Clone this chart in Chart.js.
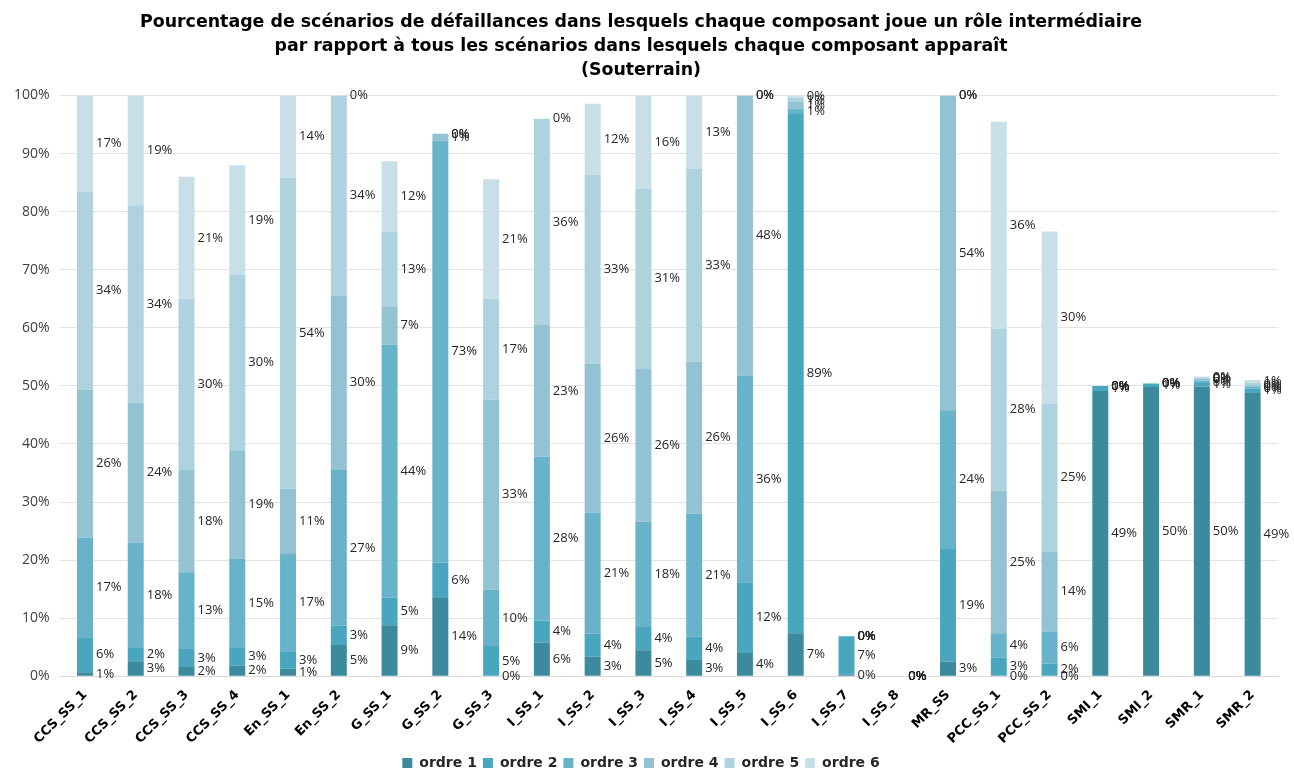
<!DOCTYPE html>
<html>
<head>
<meta charset="utf-8">
<script src="https://cdn.jsdelivr.net/npm/chart.js@4"></script>
<style>
  body { margin: 0; background: #fff; }
</style>
</head>
<body>
<canvas id="chart" width="1294" height="780"></canvas>
<script>
const categories = ['CCS_SS_1', 'CCS_SS_2', 'CCS_SS_3', 'CCS_SS_4', 'En_SS_1', 'En_SS_2', 'G_SS_1', 'G_SS_2', 'G_SS_3',
    'I_SS_1', 'I_SS_2', 'I_SS_3', 'I_SS_4', 'I_SS_5', 'I_SS_6', 'I_SS_7', 'I_SS_8', 'MR_SS', 'PCC_SS_1', 'PCC_SS_2',
    'SMI_1', 'SMI_2', 'SMR_1', 'SMR_2'];

// values in %
const ordre1 = [0.7, 2.6, 1.6, 1.8, 1.3, 5.4, 8.8, 13.6, 0, 5.8, 3.4, 4.5, 2.8, 4.0, 7.4, 0.3, 0, 2.5, 0, 0, 49.1, 49.8, 49.9, 48.9];
const ordre2 = [6.0, 2.4, 3.1, 3.2, 2.9, 3.3, 4.7, 6.0, 5.2, 3.8, 3.9, 4.0, 4.0, 12.2, 89.4, 6.6, 0, 19.4, 3.2, 2.2, 0.9, 0.6, 0.6, 0.6];
const ordre3 = [17.2, 18.0, 13.2, 15.3, 17.0, 26.8, 43.6, 72.6, 9.7, 28.2, 20.9, 18.1, 21.2, 35.6, 0.9, 0, 0, 23.9, 4.2, 5.5, 0, 0, 0.4, 0.3];
const ordre4 = [25.5, 24.1, 17.6, 18.6, 11.1, 30.1, 6.6, 1.2, 32.7, 22.7, 25.6, 26.3, 26.2, 48.2, 1.2, 0, 0, 54.2, 24.6, 13.8, 0, 0, 0.3, 0.3];
const ordre5 = [34.0, 34.0, 29.5, 30.2, 53.6, 34.4, 12.9, 0, 17.4, 35.5, 32.5, 31.1, 33.2, 0, 0.7, 0, 0, 0, 27.9, 25.4, 0, 0, 0.2, 0.4];
const ordre6 = [16.6, 18.9, 21.0, 18.9, 14.1, 0, 12.1, 0, 20.6, 0, 12.3, 16.0, 12.6, 0, 0.4, 0, 0, 0, 35.6, 29.7, 0, 0, 0.2, 0.5];

const seriesNames = ['ordre 1', 'ordre 2', 'ordre 3', 'ordre 4', 'ordre 5', 'ordre 6'];
const seriesColors = ['#3c8a9e', '#4aa6bf', '#68b3c9', '#93c3d3', '#afd3de', '#c8dfe7'];
const yTicks = [0, 10, 20, 30, 40, 50, 60, 70, 80, 90, 100];

const allSeries = [ordre1, ordre2, ordre3, ordre4, ordre5, ordre6];

// draws the % label to the right of every segment, like the Excel original
const sideLabels = {
    id: 'sideLabels',
    afterDatasetsDraw(chart) {
        const ctx = chart.ctx;
        ctx.save();
        ctx.font = '13px "Open Sans"';
        ctx.fillStyle = '#262626';
        ctx.textAlign = 'left';
        ctx.textBaseline = 'middle';
        chart.data.datasets.forEach((ds, i) => {
            const meta = chart.getDatasetMeta(i);
            meta.data.forEach((bar, j) => {
                const v = ds.data[j];
                const y = (bar.y + bar.base) / 2;
                ctx.fillText(Math.round(v) + '%', bar.x + bar.width / 2 + 3, y);
            });
        });
        ctx.restore();
    }
};

new Chart(document.getElementById('chart'), {
    type: 'bar',
    data: {
        labels: categories,
        datasets: allSeries.map((d, i) => ({
            label: seriesNames[i],
            data: d,
            backgroundColor: seriesColors[i],
            borderWidth: 0,
            categoryPercentage: 1,
            barPercentage: 0.315
        }))
    },
    options: {
        responsive: false,
        animation: false,
        layout: { padding: { left: 4, right: 16, top: 5, bottom: 0 } },
        scales: {
            x: {
                stacked: true,
                grid: { display: false },
                border: { color: '#d9d9d9' },
                ticks: {
                    color: '#000',
                    font: { family: 'DejaVu Sans', size: 13, weight: 'bold' },
                    maxRotation: 45,
                    minRotation: 45,
                    autoSkip: false
                }
            },
            y: {
                stacked: true,
                min: 0,
                max: 100,
                grid: { color: '#e3e3e3', drawTicks: false },
                border: { display: false },
                afterBuildTicks(axis) {
                    axis.ticks = yTicks.map(v => ({ value: v }));
                },
                ticks: {
                    color: '#404040',
                    padding: 10,
                    font: { family: 'Open Sans', size: 14 },
                    callback: v => v + '%'
                }
            }
        },
        plugins: {
            title: {
                display: true,
                text: ['Pourcentage de scénarios de défaillances dans lesquels chaque composant joue un rôle intermédiaire',
                       'par rapport à tous les scénarios dans lesquels chaque composant apparaît',
                       '(Souterrain)'],
                color: '#000',
                font: { family: 'DejaVu Sans', size: 17.4, weight: 'bold', lineHeight: 1.37 },
                padding: { top: 6, bottom: 13 }
            },
            legend: {
                position: 'bottom',
                labels: {
                    color: '#262626',
                    font: { family: 'DejaVu Sans', size: 14, weight: 'bold' },
                    boxWidth: 10,
                    boxHeight: 10,
                    padding: 6
                }
            },
            tooltip: { enabled: false }
        }
    },
    plugins: [sideLabels]
});
</script>
</body>
</html>
